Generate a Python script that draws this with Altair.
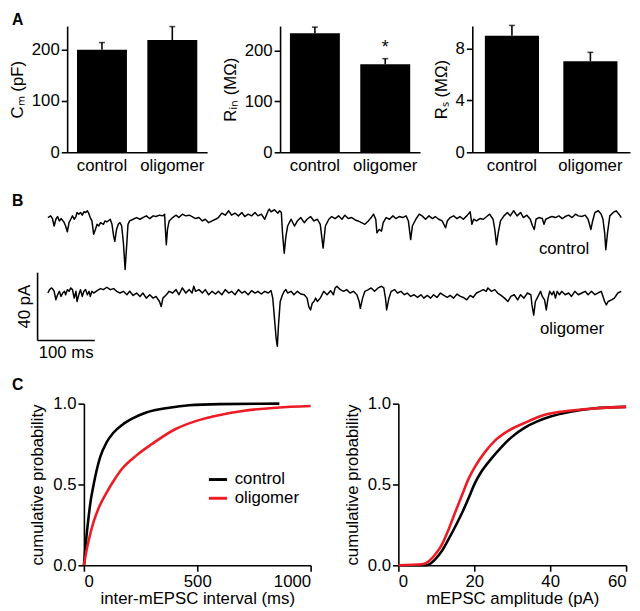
import altair as alt
import pandas as pd
import numpy as np

FONT = "Liberation Sans"
RED = "#ed1c24"

# ---------------- Panel A data ----------------
groups = ["control", "oligomer"]
cm_mean = [199, 218]
cm_upper = [213, 244]
rin_mean = [234, 173]
rin_upper = [246, 184]
rs_mean = [9.0, 7.04]
rs_upper = [9.8, 7.72]
rin_star = 205

# ---------------- Panel B data (ms, pA) ----------------
ctl_t = [18, 23, 26, 29, 32, 35, 38, 41, 46, 49, 52, 55, 58, 61, 64, 67, 69, 72, 75, 78,
         81, 84, 87, 90, 92, 95, 98, 101, 104, 107, 110, 115, 118, 121, 127, 130, 133, 135, 138, 141,
         144, 147, 150, 153, 156, 158, 161, 167, 173, 179, 184, 190, 196, 202, 207, 213, 219, 222, 223, 225,
         227, 230, 236, 242, 247, 253, 259, 265, 270, 276, 282, 288, 293, 299, 305, 311, 316, 322, 328, 334,
         339, 345, 351, 357, 362, 368, 374, 380, 385, 391, 397, 403, 405, 408, 414, 420, 423, 426, 428, 431,
         434, 437, 443, 449, 454, 460, 466, 471, 477, 483, 489, 494, 499, 503, 509, 514, 520, 526, 532, 537,
         543, 549, 555, 560, 566, 572, 578, 583, 587, 591, 593, 597, 601, 604, 609, 615, 621, 626, 632, 638,
         644, 648, 652, 655, 661, 667, 672, 678, 684, 690, 695, 701, 707, 713, 716, 721, 727, 733, 738, 744,
         750, 756, 759, 762, 767, 773, 779, 785, 790, 796, 799, 802, 805, 809, 815, 821, 826, 832, 838, 844,
         849, 855, 861, 865, 868, 871, 876, 882, 885, 888, 894, 899, 905, 911, 917, 922, 928, 934, 940, 945,
         951, 957, 962, 967, 970, 974, 980, 985, 988, 991, 993, 996, 1000, 1006, 1011, 1016, 1020]
ctl_pa = [0, 1.0, -0.6, -5.0, -1.0, 0.6, -2.0, -0.6, -2.6, -5.0, -8.4, -3.0, -1.0, 1.0, -1.0, 0.6, 3.0, 2.0, 3.0, 1.4,
          3.4, 3.0, 4.0, 2.0, 0, -2.0, -9.8, -7.0, -4.0, -5.0, -3.0, -4.0, -2.0, -2.6, -1.0, -4.0, -11.0, -14.0, -7.0, -4.0,
          -3.0, -5.0, -15.0, -30.6, -15.0, -4.0, -2.0, -1.0, 0, -1.0, 0, 1.0, -0.6, 1.0, 0.6, 1.4, 1.0, 2.0, -5.0, -16.0,
          -7.0, -2.0, 0, 1.4, 0, 2.0, 1.0, 1.4, 0.6, -0.6, 0, -2.0, -1.0, -3.0, -2.0, -1.0, 0, 2.6, 1.4, 4.0,
          1.4, 2.6, 1.0, 3.0, 0.6, 2.0, 1.0, 3.0, 1.0, 2.0, -1.0, 4.0, 5.0, 3.4, 4.6, 2.6, 4.0, 3.0, -9.0, -21.0,
          -11.0, -5.0, -1.0, -5.0, -2.0, 0, -3.0, -1.0, 0.6, -2.0, -1.0, -4.0, -18.0, -5.0, -1.0, 0.6, -0.6, 1.0, -1.0, 1.4,
          -0.6, 0, -1.4, -2.0, -3.0, -4.0, -2.0, 0, 2.0, -1.0, -9.0, -7.0, -8.0, -3.0, 0, -1.0, 1.0, -0.6, 0.6, 0,
          1.0, -2.0, -13.0, -5.0, -1.0, 2.0, 1.0, -1.0, 1.0, -0.6, 0.6, -1.0, -2.0, -6.0, -2.0, 0, 1.0, -0.6, 0.6, -1.0,
          1.0, 3.4, -4.0, -1.0, -2.0, -0.6, -1.0, 0.6, 2.0, -1.0, -7.0, -16.0, -9.0, -2.0, 1.0, 3.0, 1.0, 4.0, 1.0, 3.0,
          0, 1.4, -1.0, -5.0, -7.0, -1.0, 0, -0.6, -4.0, -1.0, 0, 0.6, 0, 1.0, -0.6, 0.6, 1.4, 0, 2.0, 1.0,
          0.6, 1.4, -1.0, -7.0, -2.0, 3.0, 4.0, 2.0, -1.0, -9.0, -19.0, -9.0, 1.0, 3.0, 4.0, 2.0, 0]

olg_t = [18, 21, 24, 26, 29, 32, 35, 38, 41, 44, 47, 49, 52, 55, 58, 61, 64, 67, 69, 72,
         75, 78, 81, 84, 87, 90, 92, 95, 98, 104, 110, 115, 121, 127, 133, 138, 144, 150, 156, 161,
         167, 173, 179, 184, 190, 196, 202, 207, 213, 216, 219, 225, 230, 236, 242, 247, 253, 259, 265, 270,
         273, 276, 282, 288, 293, 299, 305, 311, 316, 322, 328, 334, 339, 345, 351, 357, 362, 368, 374, 380,
         385, 391, 397, 403, 408, 411, 414, 417, 419, 421, 424, 428, 431, 434, 437, 443, 448, 454, 460, 466,
         471, 474, 477, 480, 483, 486, 489, 494, 500, 506, 512, 517, 520, 523, 529, 535, 540, 546, 552, 558,
         562, 564, 568, 572, 578, 583, 589, 595, 601, 605, 608, 610, 614, 618, 624, 629, 635, 641, 646, 652,
         658, 664, 670, 675, 681, 687, 692, 698, 704, 710, 716, 721, 727, 733, 739, 744, 750, 756, 761, 767,
         773, 779, 784, 787, 793, 799, 804, 810, 816, 822, 827, 833, 839, 844, 850, 856, 862, 864, 867, 870,
         873, 876, 879, 882, 886, 889, 892, 895, 899, 902, 905, 908, 912, 916, 922, 928, 933, 939, 945, 951,
         957, 962, 968, 974, 979, 985, 991, 994, 997, 1003, 1008, 1014, 1020]
olg_pa = [-1.0, 1.0, 2.0, 1.6, 0, -5.0, -2.0, 0, -3.0, -1.0, 0, -2.0, 1.0, 0, 2.0, 1.0, -4.0, 0, -6.0, -2.0,
          1.0, -3.0, 0, 1.0, -2.0, 0, -3.0, 0, -1.0, 0.4, 1.6, 1.0, 2.4, 1.0, 1.6, 0, -1.0, 0, -2.0, 0,
          -2.4, -1.0, -3.0, -1.0, -4.0, -2.0, -4.0, -3.0, -6.0, -9.0, -4.0, -2.0, 0, -1.0, 1.0, -2.0, 2.0, -1.0, 1.0, -1.0,
          3.0, 0, 1.0, -1.0, 1.0, -2.0, 0, -1.6, 0, -2.0, 1.0, -1.0, 0, -2.0, 1.0, -1.0, 0, -2.0, 0.4, -1.0,
          0, -1.6, 0, -1.0, 0.4, -4.0, -16.0, -28.0, -32.4, -20.0, -6.0, -2.0, 0, 1.0, -1.0, 0, -2.0, 0, -1.6, -2.0,
          -4.0, -9.0, -11.0, -7.0, -6.0, -4.0, -6.0, -4.0, 0, -2.0, 0.4, -2.0, 2.0, 3.0, 1.0, 0, 1.0, -1.0, 0, -2.0,
          -6.0, -10.0, -4.0, 0, 1.0, 2.0, 0, 2.0, 3.0, 2.0, -4.0, -11.0, -4.0, 0, 1.0, -1.0, 0, -2.0, -1.0, -3.0,
          -2.0, -3.6, -2.0, -4.0, -2.4, -4.0, -2.0, -3.6, -1.0, -2.4, -3.6, -2.4, -4.0, -1.6, -3.0, -3.6, -5.0, -2.4, -3.6, -1.0,
          0, 1.0, 0, 2.0, 0, 1.0, -1.0, -2.4, -4.0, -6.0, -3.0, -2.0, -5.0, -2.0, -4.0, -1.0, -2.0, -8.0, -14.0, -6.0,
          -4.0, -2.0, 0, -3.0, -5.0, -11.0, -4.0, 0, -2.0, 0, -4.0, 0, -2.0, 0, -2.0, -1.0, -3.0, 0, -2.0, -1.0,
          0, -2.0, 0, -2.0, -1.0, 0, -6.0, -8.0, -6.0, -5.0, -4.0, -1.0, 0]

CTL_OFFSET = 43.5          # vertical separation of the two traces (pA)
SCALE_MS = 100
SCALE_PA = 40
SCALE_ORIGIN = (0, -29)

# ---------------- Panel C data ----------------
iei_ctl_t = [0, 10, 20, 30, 43, 55, 72, 100, 130, 170, 217, 275, 377, 464, 600, 862]
iei_ctl_p = [0, 0.16, 0.29, 0.40, 0.50, 0.58, 0.67, 0.76, 0.82, 0.87, 0.91, 0.945, 0.975, 0.99, 0.997, 1.0]
iei_olg_t = [0, 10, 22, 43, 70, 100, 130, 170, 232, 300, 400, 500, 600, 700, 850, 1000]
iei_olg_p = [0, 0.08, 0.16, 0.27, 0.37, 0.45, 0.52, 0.60, 0.68, 0.75, 0.84, 0.895, 0.93, 0.955, 0.975, 0.985]

amp_ctl_a = [0, 7.2, 8.1, 9.8, 11.5, 13.2, 15.0, 16.7, 18.4, 20.2, 21.9, 24.5, 27.1, 29.7, 33.2, 36.6, 40.1, 45.3, 51.3, 60]
amp_ctl_p = [0, 0, 0.006, 0.04, 0.09, 0.16, 0.24, 0.32, 0.41, 0.51, 0.58, 0.66, 0.73, 0.79, 0.85, 0.89, 0.92, 0.95, 0.97, 0.98]
amp_olg_a = [0, 6.3, 8.1, 9.8, 11.5, 13.2, 15.0, 16.7, 18.4, 20.2, 22.8, 25.4, 28.8, 33.2, 38.4, 44.4, 51.3, 60]
amp_olg_p = [0, 0.006, 0.027, 0.07, 0.13, 0.22, 0.33, 0.43, 0.53, 0.61, 0.70, 0.77, 0.83, 0.88, 0.93, 0.955, 0.97, 0.98]

ROW_A_H, ROW_B_H, ROW_C_H = 128, 155, 164
LETTER_DX = -26


def spacer(w, h):
    return alt.Chart(pd.DataFrame({"s": [0]})).mark_point(opacity=0).encode(
        x=alt.value(0), y=alt.value(0)).properties(width=w, height=h)


def letter(txt, offset):
    return alt.TitleParams(text=txt, anchor="start", frame="group", orient="top",
                           dx=LETTER_DX, offset=offset, baseline="alphabetic",
                           font=FONT, fontSize=16, fontWeight="bold", color="black")


def bar_panel(mean, upper, ymax, ticks, title, width, pin, pout, star=None):
    df = pd.DataFrame({"group": groups, "mean": mean, "upper": upper})
    xenc = alt.X("group:N", sort=groups, title=None,
                 scale=alt.Scale(paddingInner=pin, paddingOuter=pout),
                 axis=alt.Axis(ticks=False, labelAngle=0, labelPadding=5))
    yscale = alt.Scale(domain=[0, ymax], nice=False)
    yaxis = alt.Axis(values=ticks, title=title, titlePadding=5)
    bars = alt.Chart(df).mark_bar(color="black").encode(
        x=xenc, y=alt.Y("mean:Q", scale=yscale, axis=yaxis))
    err = alt.Chart(df).mark_rule(color="black", strokeWidth=1.6).encode(
        x=xenc, y=alt.Y("mean:Q", scale=yscale, axis=yaxis), y2="upper:Q")
    cap = alt.Chart(df).mark_tick(color="black", size=6, thickness=1.6).encode(
        x=xenc, y=alt.Y("upper:Q", scale=yscale, axis=yaxis))
    layers = [bars, err, cap]
    if star is not None:
        sdf = pd.DataFrame({"group": ["oligomer"], "y": [star], "label": ["*"]})
        layers.append(alt.Chart(sdf).mark_text(fontSize=18, font=FONT, color="black", baseline="middle").encode(
            x=xenc, y=alt.Y("y:Q", scale=yscale, axis=yaxis), text="label:N"))
    return alt.layer(*layers).properties(width=width, height=ROW_A_H)


c1 = bar_panel(cm_mean, cm_upper, 245, [0, 100, 200], "C\u2098 (pF)", 142, 0.29, 0.14)
c2 = bar_panel(rin_mean, rin_upper, 248, [0, 100, 200], "R\u1d62\u2099 (M\u03a9)", 142, 0.29, 0.14, star=rin_star)
c3 = bar_panel(rs_mean, rs_upper, 9.75, [0, 4, 8], "R\u209b (M\u03a9)", 160, 0.31, 0.16)

rowA = alt.hconcat(spacer(30, ROW_A_H), c1, spacer(74, ROW_A_H), c2, spacer(53, ROW_A_H), c3,
                   spacing=0, bounds="flush").properties(title=letter("A", -18))

# ---------------- Row B ----------------
trace_df = pd.concat([
    pd.DataFrame({"t": ctl_t, "pa": np.array(ctl_pa) + CTL_OFFSET, "trace": "control"}),
    pd.DataFrame({"t": olg_t, "pa": olg_pa, "trace": "oligomer"}),
])
xs = alt.Scale(domain=[0, 1025], nice=False, zero=False)
ys = alt.Scale(domain=[-36, 54.1], nice=False, zero=False)
traces = alt.Chart(trace_df).mark_line(color="black", strokeWidth=1.5, strokeJoin="round").encode(
    x=alt.X("t:Q", scale=xs, axis=None), y=alt.Y("pa:Q", scale=ys, axis=None), detail="trace:N")
ox, oy = SCALE_ORIGIN
sb_df = pd.DataFrame({"t": [ox, ox], "pa": [oy, oy], "t2": [ox, ox + SCALE_MS], "pa2": [oy + SCALE_PA, oy]})
scalebar = alt.Chart(sb_df).mark_rule(color="black", strokeWidth=1.6).encode(
    x=alt.X("t:Q", scale=xs, axis=None), y=alt.Y("pa:Q", scale=ys, axis=None), x2="t2:Q", y2="pa2:Q")
lab_df = pd.DataFrame({"t": [920, 934, 50], "pa": [25, -22, -36.5], "label": ["control", "oligomer", "100 ms"]})
labels = alt.Chart(lab_df).mark_text(font=FONT, fontSize=17, color="black", baseline="middle").encode(
    x=alt.X("t:Q", scale=xs, axis=None), y=alt.Y("pa:Q", scale=ys, axis=None), text="label:N")
vlab_df = pd.DataFrame({"t": [-21], "pa": [oy + SCALE_PA / 2], "label": ["40 pA"]})
vlabel = alt.Chart(vlab_df).mark_text(font=FONT, fontSize=17, color="black", baseline="middle", angle=270).encode(
    x=alt.X("t:Q", scale=xs, axis=None), y=alt.Y("pa:Q", scale=ys, axis=None), text="label:N")
rowB = alt.layer(traces, scalebar, labels, vlabel).properties(
    width=595, height=ROW_B_H, title=letter("B", -22))

# ---------------- Row C ----------------
cscale = alt.Scale(domain=["control", "oligomer"], range=["black", RED])
yC = alt.Y("p:Q", scale=alt.Scale(domain=[0, 1], nice=False),
           axis=alt.Axis(values=[0, 0.5, 1.0], format=".1f", title="cumulative probability", titlePadding=6))
iei_df = pd.concat([
    pd.DataFrame({"x": iei_ctl_t, "p": iei_ctl_p, "group": "control"}),
    pd.DataFrame({"x": iei_olg_t, "p": iei_olg_p, "group": "oligomer"}),
])
amp_df = pd.concat([
    pd.DataFrame({"x": amp_ctl_a, "p": amp_ctl_p, "group": "control"}),
    pd.DataFrame({"x": amp_olg_a, "p": amp_olg_p, "group": "oligomer"}),
])
left = alt.Chart(iei_df).mark_line(strokeWidth=2.6, interpolate="monotone").encode(
    x=alt.X("x:Q", scale=alt.Scale(domain=[0, 1000], nice=False),
            axis=alt.Axis(values=[0, 500, 1000], format="d", title="inter-mEPSC interval (ms)", titlePadding=2)),
    y=yC,
    color=alt.Color("group:N", scale=cscale,
                    legend=alt.Legend(title=None, orient="none", legendX=125, legendY=66,
                                      symbolType="stroke", symbolStrokeWidth=3, symbolSize=340,
                                      labelFontSize=17, labelFont=FONT, labelColor="black",
                                      rowPadding=0, labelOffset=6)),
    order=alt.Order("x:Q"),
).properties(width=230, height=ROW_C_H)
right = alt.Chart(amp_df).mark_line(strokeWidth=2.6, interpolate="monotone").encode(
    x=alt.X("x:Q", scale=alt.Scale(domain=[0, 60], nice=False),
            axis=alt.Axis(values=[0, 20, 40, 60], format="d", title="mEPSC amplitude (pA)", titlePadding=2)),
    y=yC,
    color=alt.Color("group:N", scale=cscale, legend=None),
    order=alt.Order("x:Q"),
).properties(width=231, height=ROW_C_H)

rowC = alt.hconcat(spacer(47, ROW_C_H), left, spacer(89, ROW_C_H), right,
                   spacing=0, bounds="flush").resolve_scale(color="independent").properties(
    title=letter("C", -11))

chart = alt.vconcat(alt.vconcat(rowA, rowB, spacing=20), rowC, spacing=16).properties(padding=0).configure(
    font=FONT
).configure_view(stroke=None).configure_axis(
    domainColor="black", domainWidth=1.6, tickColor="black", tickWidth=1.6, tickSize=6,
    labelColor="black", titleColor="black", labelFont=FONT, titleFont=FONT,
    labelFontSize=17, titleFontSize=17, titleFontWeight="normal", grid=False, labelPadding=2
)

chart.save("out.html", embed_options={"renderer": "svg", "actions": False})
